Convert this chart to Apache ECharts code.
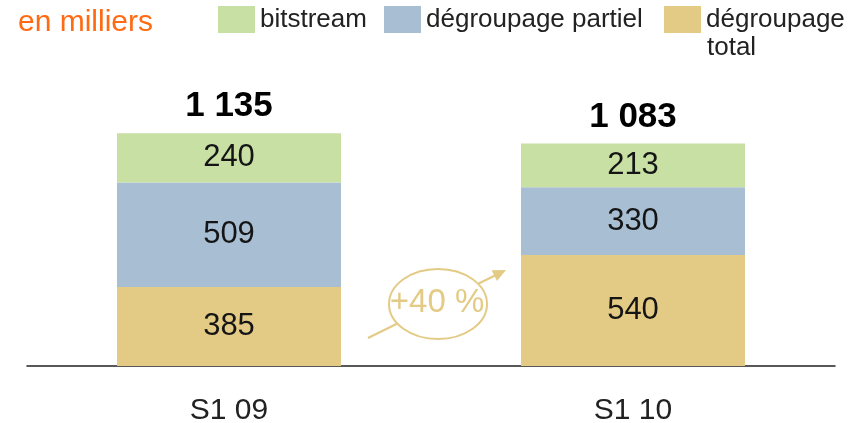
<!DOCTYPE html>
<html>
<head>
<meta charset="utf-8">
<script src="https://cdn.jsdelivr.net/npm/echarts@6/dist/echarts.min.js"></script>
<style>
html,body{margin:0;padding:0;background:#fff;}
#main{width:866px;height:423px;}
</style>
</head>
<body>
<div id="main"></div>
<script>
// données (en milliers)
var categories = ['S1 09', 'S1 10'];
var totalDeg = [385, 540];
var partielDeg = [509, 330];
var bitstream = [240, 213];
var totals = ['1 135', '1 083'];
var totalsPos = [1135, 1083];

var FONT = 'Liberation Sans';
var cGreen = '#c8e0a4', cBlue = '#a8bed3', cTan = '#e3cb85';

var myChart = echarts.init(document.getElementById('main'));

var inLabel = {show: true, position: 'inside', fontSize: 31, color: '#151515', fontFamily: FONT};

function leg(name, left){
	return {
		data: [name], left: left, top: 6, padding: 0, itemWidth: 37, itemHeight: 27,
		icon: 'rect', selectedMode: false,
		// "dégroupage total" sur deux lignes : la 2e ligne est ajoutée en graphic
		formatter: function(n){ return n == 'dégroupage total' ? 'dégroupage' : n; },
		textStyle: {fontSize: 26, color: '#222', fontFamily: FONT, padding: [3, 0, 0, 0]}
	};
}

option = {
	backgroundColor: '#fff',
	animation: false,
	legend: [leg('bitstream', 218), leg('dégroupage partiel', 384), leg('dégroupage total', 664)],
	grid: {left: 27, right: 31, top: 58, bottom: 57, outerBoundsMode: 'none', containLabel: false},
	xAxis: {
		type: 'category', data: categories,
		axisLine: {lineStyle: {color: '#222', width: 1.5}},
		axisTick: {show: false},
		axisLabel: {fontSize: 30, color: '#222', fontFamily: FONT, margin: 30}
	},
	yAxis: {type: 'value', min: 0, max: 1500, show: false, splitLine: {show: false}},
	series: [
		{name: 'dégroupage total', type: 'bar', stack: 's', barWidth: 224, data: totalDeg,
			itemStyle: {color: cTan}, label: inLabel},
		{name: 'dégroupage partiel', type: 'bar', stack: 's', data: partielDeg,
			itemStyle: {color: cBlue}, label: inLabel},
		{name: 'bitstream', type: 'bar', stack: 's', data: bitstream,
			itemStyle: {color: cGreen}, label: inLabel},
		// totaux au-dessus des barres
		{name: 'totaux', type: 'scatter', data: totalsPos, symbolSize: 0, itemStyle: {color: '#fff', opacity: 1},
			label: {show: true, position: 'top', distance: 9, fontSize: 35, fontWeight: 'bold', color: '#000', opacity: 1, fontFamily: FONT,
				formatter: function(p){ return totals[p.dataIndex]; }}}
	],
	graphic: [
		{type: 'text', left: 18, top: 8, style: {text: 'en milliers', fontSize: 30, fill: '#ff6a13', fontFamily: FONT}},
		{type: 'text', x: 707, y: 48, style: {text: 'total', fontSize: 26, fill: '#222', fontFamily: FONT, verticalAlign: 'middle'}},
		{type: 'line', shape: {x1: 368, y1: 338, x2: 496, y2: 275}, style: {stroke: cTan, lineWidth: 2}},
		{type: 'polygon', shape: {points: [[506, 270], [497, 281], [491.6, 270.3]]}, style: {fill: cTan}},
		{type: 'ellipse', shape: {cx: 438, cy: 304, rx: 49, ry: 35}, style: {fill: '#fff', stroke: cTan, lineWidth: 2}},
		{type: 'text', x: 437, y: 303, style: {text: '+40 %', fontSize: 33, fill: cTan, fontFamily: FONT, align: 'center', verticalAlign: 'middle'}}
	]
};

myChart.setOption(option);
</script>
</body>
</html>
